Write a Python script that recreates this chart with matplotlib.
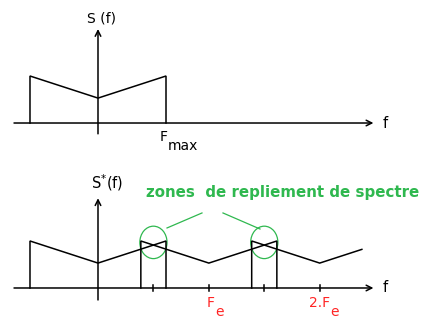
import matplotlib.pyplot as plt
from matplotlib.patches import Ellipse
from matplotlib.font_manager import FontProperties
from matplotlib.textpath import TextPath

# Données (unités : Fmax = 1, hauteur du bord du spectre = 1)
fmax = 1.0
fe = 1.63
edge_h = 1.0      # hauteur aux bords +-Fmax
center_h = 0.53   # hauteur au centre (f = 0)
copies = [0, 1, 2]          # répliques n*Fe du spectre échantillonné
f_cut = 3.88                # bord droit du dessin (réplique 2 tronquée)
tick_pos = [0.5 * fe, fe, 1.5 * fe, 2 * fe]
zones = [0.5 * fe, 1.5 * fe]   # centres des zones de repliement

black = "black"
green = "#2fb84f"
red = "#ff2424"
lw = 1.1

fig = plt.figure(figsize=(4.23, 3.2), dpi=100)
ax_top = fig.add_axes([0, 0.5, 1, 0.5])
ax_bot = fig.add_axes([0, 0, 1, 0.5])

xlim = (-1.441, 4.779)
ax_top.set_xlim(*xlim)
ax_top.set_ylim(-0.787, 2.617)
ax_bot.set_xlim(*xlim)
ax_bot.set_ylim(-0.681, 2.723)
for ax in (ax_top, ax_bot):
    ax.axis("off")


def spectrum(shift, right=None):
    xs = [shift - fmax, shift - fmax, shift, shift + fmax, shift + fmax]
    ys = [0, edge_h, center_h, edge_h, 0]
    if right is not None and shift + fmax > right:
        t = (right - shift) / fmax
        xs = [shift - fmax, shift - fmax, shift, right]
        ys = [0, edge_h, center_h, center_h + (edge_h - center_h) * t]
    return xs, ys


def axes_arrows(ax, y_lo, y_hi):
    ax.annotate("", xy=(4.05, 0), xytext=(-1.235, 0),
                arrowprops=dict(arrowstyle="->", lw=lw, color=black, mutation_scale=10,
                                shrinkA=0, shrinkB=0))
    ax.annotate("", xy=(0, y_hi), xytext=(0, y_lo),
                arrowprops=dict(arrowstyle="->", lw=lw, color=black, mutation_scale=10,
                                shrinkA=0, shrinkB=0))
    ax.text(4.22, 0, "f", fontsize=10.5, ha="center", va="center")


def sub_label(ax, x, y, main, sub, color=black, size=10):
    # indice à la même taille que le texte, juste décalé vers le bas
    ax.text(x, y, main, fontsize=size, color=color, ha="left", va="baseline")
    w = TextPath((0, 0), main, size=size, prop=FontProperties(family="DejaVu Sans")).get_extents().x1
    ax.annotate(sub, xy=(x, y), xytext=(w + 0.6, -6.5), textcoords="offset points",
                fontsize=size, color=color, ha="left", va="baseline")


# ---- Spectre S(f) ----
axes_arrows(ax_top, -0.23, 2.0)
xs, ys = spectrum(0)
ax_top.plot(xs, ys, color=black, lw=lw, solid_joinstyle="miter")
ax_top.text(0.045, 2.23, "S (f)", fontsize=10, ha="center", va="center")
sub_label(ax_top, 0.91, -0.383, "F", "max")

# ---- Spectre échantillonné S*(f) ----
axes_arrows(ax_bot, -0.255, 1.91)
for n in copies:
    xs, ys = spectrum(n * fe, right=f_cut)
    ax_bot.plot(xs, ys, color=black, lw=lw, solid_joinstyle="miter")
for t in tick_pos:
    ax_bot.plot([t, t], [-0.06, 0.06], color=black, lw=lw)

ax_bot.text(0.13, 2.25, r"S$^{*}$(f)", fontsize=10.5, ha="center", va="center")
sub_label(ax_bot, 1.603, -0.404, "F", "e", color=red)
sub_label(ax_bot, 3.10, -0.404, "2.F", "e", color=red)

for zc in zones:
    ax_bot.add_patch(Ellipse((zc, 0.97), 0.40, 0.69, fill=False, ec=green, lw=0.9))
ax_bot.plot([1.015, 1.529], [1.277, 1.596], color=green, lw=0.9)
ax_bot.plot([1.838, 2.382], [1.596, 1.255], color=green, lw=0.9)
ax_bot.text(0.706, 2.04, "zones  de repliement de spectre", fontsize=10.8,
            fontweight="bold", color=green, ha="left", va="center")

fig.savefig("out.png", dpi=100)
